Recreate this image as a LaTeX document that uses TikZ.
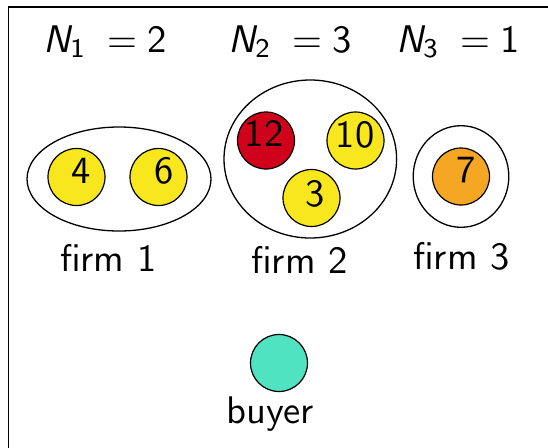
\documentclass[tikz,border=0pt]{standalone}
\usepackage{graphicx}
\definecolor{cyel}{HTML}{F8E71C}
\definecolor{cred}{HTML}{D0021B}
\definecolor{corg}{HTML}{F5A623}
\definecolor{cteal}{HTML}{50E3C2}
\newcommand\bigtxt[1]{\scalebox{3.85}{\sffamily\fontsize{10}{12}\selectfont #1}}
\newcommand\Nlab[2]{\bigtxt{{\slshape N}\raisebox{-1.3pt}{\fontsize{7}{7}\selectfont #1}\hspace{6pt}=\hspace{2.5pt}#2}}
\usetikzlibrary{shapes.geometric}
\tikzset{
  ball/.style={circle, draw=black, line width=1.2pt, minimum size=57pt, inner sep=0pt},
  firm/.style={ellipse, draw=black, line width=1.3pt, inner sep=0pt},
  num/.style={inner sep=0pt, anchor=center},
  lab/.style={inner sep=0pt, anchor=base},
  frame/.style={line width=1.7pt}
}
\begin{document}
\begin{tikzpicture}[x=1pt,y=-1pt]
\useasboundingbox (0,0) rectangle (548,447);
% frame
\coordinate (ftr) at (549,7);
\coordinate (ftl) at (8.5,7);
\coordinate (fbl) at (8.5,448);
\draw[frame] (ftr) -- (ftl) -- (fbl);
% headings
\node[inner sep=0pt, anchor=base west] (n1) at (43,52) {\Nlab{1}{2}};
\node[inner sep=0pt, anchor=base west] (n2) at (228,52) {\Nlab{2}{3}};
\node[inner sep=0pt, anchor=base west] (n3) at (396,52) {\Nlab{3}{1}};
% firms
\node[firm, minimum width=184pt, minimum height=104pt] (f1) at (119,179) {};
\node[firm, minimum width=172.6pt, minimum height=158pt] (f2) at (310.3,159) {};
\node[firm, minimum width=95.6pt, minimum height=101.6pt] (f3) at (461,176.5) {};
% balls
\node[ball, fill=cyel] (b4) at (76.5,177) {};
\node[ball, fill=cyel] (b6) at (158.5,177) {};
\node[ball, fill=cred] (b12) at (266,140.5) {};
\node[ball, fill=cyel] (b10) at (355.5,140.5) {};
\node[ball, fill=cyel] (b3) at (311.5,198) {};
\node[ball, fill=corg] (b7) at (461,176.5) {};
\node[ball, fill=cteal] (buy) at (279,363) {};
% numbers
\node[num] (t4) at (81,171) {\bigtxt{4}};
\node[num] (t6) at (164.5,171) {\bigtxt{6}};
\node[num] (t12) at (264,133.3) {\bigtxt{12}};
\node[num] (t10) at (355,135) {\bigtxt{10}};
\node[num] (t3) at (315.5,194.3) {\bigtxt{3}};
\node[num] (t7) at (466.5,170.5) {\bigtxt{7}};
% labels
\node[lab] (l1) at (108.3,271) {\bigtxt{firm 1}};
\node[lab] (l2) at (299.5,273) {\bigtxt{firm 2}};
\node[lab] (l3) at (461.5,269) {\bigtxt{firm 3}};
\node[lab] (lb) at (270,423) {\bigtxt{buyer}};
\end{tikzpicture}
\end{document}
